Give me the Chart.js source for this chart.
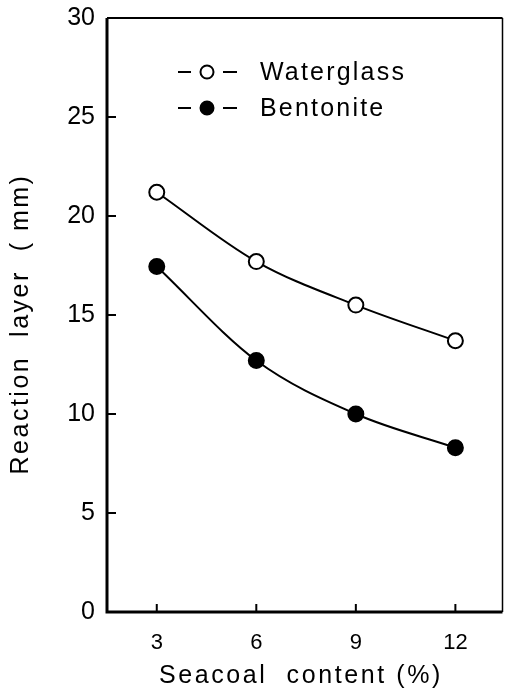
<!DOCTYPE html>
<html>
<head>
<meta charset="utf-8">
<script src="https://cdn.jsdelivr.net/npm/chart.js@4.4.1/dist/chart.umd.min.js"></script>
<style>
  html, body { margin: 0; padding: 0; background: #fff; overflow: hidden; }
  canvas { display: block; }
</style>
</head>
<body>
<canvas id="chart" width="512" height="692"></canvas>
<script>
// dati
const seacoal = [3, 6, 9, 12];
const waterglass = [21.2, 17.7, 15.5, 13.7];
const bentonite = [17.45, 12.7, 10.0, 8.3];
const xTicks = [3, 6, 9, 12];
const yTicks = [0, 5, 10, 15, 20, 25, 30];
const xTitle = 'Seacoal  content (%)';
const yTitle = 'Reaction  layer  ( mm)';

const FONT = 'Liberation Sans, Arial, sans-serif';

// bordo, tacche interne, titoli e legenda disegnati a mano
const framePlugin = {
    id: 'frame',
    beforeDraw(chart) {
        chart.ctx.letterSpacing = '0px';
    },
    afterDraw(chart) {
        const ctx = chart.ctx;
        const a = chart.chartArea;
        const xs = chart.scales.x;
        const ys = chart.scales.y;
        ctx.save();
        ctx.strokeStyle = '#000';
        // bordi
        ctx.lineWidth = 3;
        ctx.beginPath();
        ctx.moveTo(a.left, a.top);
        ctx.lineTo(a.left, a.bottom);
        ctx.lineTo(a.right, a.bottom);
        ctx.stroke();
        ctx.lineWidth = 2;
        ctx.beginPath();
        ctx.moveTo(a.left, a.top);
        ctx.lineTo(a.right, a.top);
        ctx.stroke();
        ctx.lineWidth = 1.5;
        ctx.beginPath();
        ctx.moveTo(a.right, a.top);
        ctx.lineTo(a.right, a.bottom);
        ctx.stroke();
        // tacche
        ctx.lineWidth = 2;
        ctx.beginPath();
        yTicks.forEach(v => {
            const y = ys.getPixelForValue(v);
            ctx.moveTo(a.left, y);
            ctx.lineTo(a.left + 9, y);
        });
        xTicks.forEach(v => {
            const x = xs.getPixelForValue(v);
            ctx.moveTo(x, a.bottom);
            ctx.lineTo(x, a.bottom - 8);
        });
        ctx.stroke();

        // titoli degli assi
        ctx.fillStyle = '#000';
        ctx.font = '25px ' + FONT;
        ctx.textAlign = 'center';
        ctx.textBaseline = 'middle';
        ctx.letterSpacing = '2.6px';
        ctx.fillText(xTitle, 301, 676);
        ctx.save();
        ctx.translate(21, 324);
        ctx.rotate(-Math.PI / 2);
        ctx.letterSpacing = '2.5px';
        ctx.fillText(yTitle, 0, 0);
        ctx.restore();

        // legenda
        const items = [
            { text: 'Waterglass', fill: '#fff', y: 72 },
            { text: 'Bentonite', fill: '#000', y: 108 }
        ];
        ctx.font = '25px ' + FONT;
        ctx.letterSpacing = '2.2px';
        ctx.textBaseline = 'middle';
        ctx.textAlign = 'left';
        items.forEach(it => {
            ctx.lineWidth = 2;
            ctx.beginPath();
            ctx.moveTo(178, it.y);
            ctx.lineTo(191, it.y);
            ctx.moveTo(223, it.y);
            ctx.lineTo(237, it.y);
            ctx.stroke();
            ctx.beginPath();
            ctx.arc(207, it.y, 6.5, 0, Math.PI * 2);
            ctx.fillStyle = it.fill;
            ctx.fill();
            ctx.stroke();
            ctx.fillStyle = '#000';
            ctx.fillText(it.text, 260, it.y + 1);
        });
        ctx.restore();
    }
};

new Chart(document.getElementById('chart'), {
    type: 'line',
    data: {
        datasets: [{
            label: 'Waterglass',
            data: seacoal.map((x, i) => ({ x: x, y: waterglass[i] })),
            borderColor: '#000',
            borderWidth: 2,
            pointRadius: 7.5,
            pointBorderWidth: 2,
            pointBackgroundColor: '#fff',
            pointBorderColor: '#000',
            cubicInterpolationMode: 'monotone'
        }, {
            label: 'Bentonite',
            data: seacoal.map((x, i) => ({ x: x, y: bentonite[i] })),
            borderColor: '#000',
            borderWidth: 2,
            pointRadius: 7.5,
            pointBorderWidth: 2,
            pointBackgroundColor: '#000',
            pointBorderColor: '#000',
            cubicInterpolationMode: 'monotone'
        }]
    },
    options: {
        responsive: false,
        animation: false,
        devicePixelRatio: 1,
        layout: { padding: { top: 18, right: -2, left: 0, bottom: 0 } },
        plugins: {
            legend: { display: false },
            tooltip: { enabled: false }
        },
        scales: {
            x: {
                type: 'linear',
                min: 1.5,
                max: 13.42,
                afterBuildTicks: s => { s.ticks = xTicks.map(v => ({ value: v })); },
                afterFit: s => { s.height = 80; s.paddingLeft = 0; s.paddingRight = 0; },
                grid: { display: false, drawTicks: false },
                border: { display: false },
                ticks: { color: '#000', font: { family: FONT, size: 22 }, padding: 18 }
            },
            y: {
                min: 0,
                max: 30,
                afterBuildTicks: s => { s.ticks = yTicks.map(v => ({ value: v })); },
                afterFit: s => { s.width = 107; s.paddingTop = 0; s.paddingBottom = 0; },
                grid: { display: false, drawTicks: false },
                border: { display: false },
                ticks: { color: '#000', font: { family: FONT, size: 25 }, padding: 12 }
            }
        }
    },
    plugins: [framePlugin]
});
</script>
</body>
</html>
